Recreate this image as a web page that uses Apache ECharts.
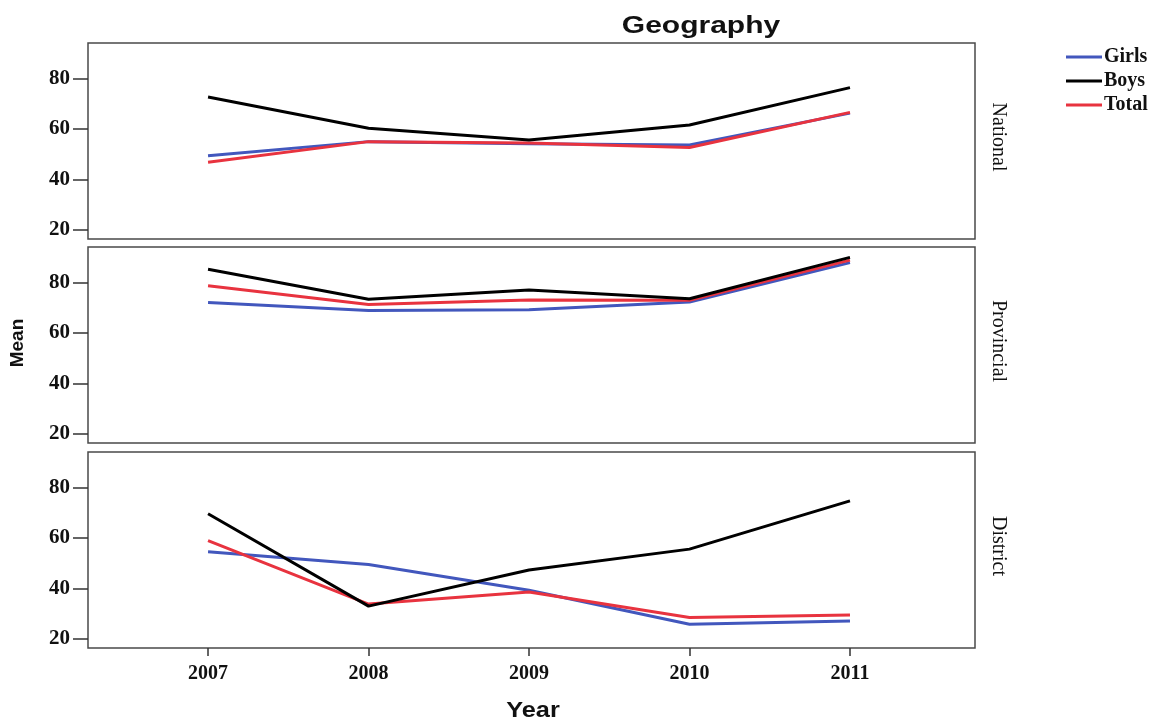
<!DOCTYPE html>
<html>
<head>
<meta charset="utf-8">
<script src="https://cdn.jsdelivr.net/npm/echarts@6/dist/echarts.min.js"></script>
<style>
  html, body { margin: 0; padding: 0; background: #fff; }
  #chart { width: 1163px; height: 725px; }
</style>
</head>
<body>
<div id="chart"></div>
<script>
// Mean Geography marks by year, split by school level and gender
const years = [2007, 2008, 2009, 2010, 2011];
const panels = ['National', 'Provincial', 'District'];
const seriesNames = ['Girls', 'Boys', 'Total'];
const yTicks = [20, 40, 60, 80];

const nationalGirls = [49.4, 55.0, 54.2, 53.7, 66.3];
const nationalBoys  = [72.7, 60.3, 55.6, 61.6, 76.4];
const nationalTotal = [46.8, 55.0, 54.5, 52.7, 66.6];

const provincialGirls = [72.1, 68.9, 69.2, 72.3, 87.9];
const provincialBoys  = [85.3, 73.4, 77.1, 73.6, 90.0];
const provincialTotal = [78.7, 71.3, 73.1, 73.0, 88.9];

const districtGirls = [54.6, 49.5, 39.3, 25.8, 27.1];
const districtBoys  = [69.6, 33.0, 47.3, 55.6, 74.7];
const districtTotal = [59.0, 33.8, 38.6, 28.5, 29.5];

const panelData = [
  { Girls: nationalGirls, Boys: nationalBoys, Total: nationalTotal },
  { Girls: provincialGirls, Boys: provincialBoys, Total: provincialTotal },
  { Girls: districtGirls, Boys: districtBoys, Total: districtTotal }
];

const colors = { Girls: '#4257bd', Boys: '#000000', Total: '#e8333f' };
const drawOrder = ['Girls', 'Total', 'Boys'];

const serif = '"Liberation Serif", "DejaVu Serif", serif';
const sans = '"Liberation Sans", Arial, sans-serif';

const gridTops = [43, 247, 452];
const gridH = 196;
const gridLeft = 88, gridRight = 975;

const grids = gridTops.map(t => ({
  left: gridLeft, top: t, width: gridRight - gridLeft, height: gridH,
  show: true, borderColor: '#4a4a4a', borderWidth: 1.5, backgroundColor: '#fff'
}));

const xAxes = panels.map((p, i) => ({
  type: 'value', gridIndex: i,
  min: 2006.252, max: 2011.779,
  axisLine: { show: false },
  splitLine: { show: false },
  axisTick: {
    show: i === 2, length: 8, inside: false, customValues: years,
    lineStyle: { color: '#333', width: 1.5 }
  },
  axisLabel: {
    show: i === 2, customValues: years, margin: 16,
    fontFamily: serif, fontWeight: 'bold', fontSize: 20, color: '#111',
    formatter: v => String(v)
  }
}));

const yAxes = panels.map((p, i) => ({
  type: 'value', gridIndex: i,
  min: 16.4, max: 94.1,
  axisLine: { show: false },
  splitLine: { show: false },
  axisTick: {
    show: true, length: 15, customValues: yTicks,
    lineStyle: { color: '#333', width: 1.5 }
  },
  axisLabel: {
    customValues: yTicks, margin: 18,
    fontFamily: serif, fontWeight: 'bold', fontSize: 21, color: '#111'
  }
}));

const series = [];
panels.forEach((p, i) => {
  drawOrder.forEach(name => {
    series.push({
      name: name, type: 'line',
      xAxisIndex: i, yAxisIndex: i,
      data: years.map((y, k) => [y, panelData[i][name][k]]),
      showSymbol: false, symbol: 'none',
      lineStyle: { color: colors[name], width: 3 },
      itemStyle: { color: colors[name] },
      animation: false
    });
  });
});

// Panel names on the right, written downwards
const texts = panels.map((p, i) => ({
  type: 'text',
  x: 998, y: gridTops[i] + gridH / 2 - 4,
  rotation: -Math.PI / 2,
  style: {
    text: p, fontFamily: serif, fontSize: 20, fill: '#111',
    align: 'center', verticalAlign: 'middle'
  }
}));

// Chart title
texts.push({
  type: 'text', x: 701, y: 26, scaleX: 1.25,
  style: {
    text: 'Geography', fontFamily: sans, fontWeight: 'bold', fontSize: 24, fill: '#111',
    align: 'center', verticalAlign: 'middle'
  }
});

// Axis titles
texts.push({
  type: 'text', x: 18, y: 343, rotation: Math.PI / 2,
  style: {
    text: 'Mean', fontFamily: sans, fontWeight: 'bold', fontSize: 19, fill: '#111',
    align: 'center', verticalAlign: 'middle'
  }
});
texts.push({
  type: 'text', x: 533, y: 711, scaleX: 1.15,
  style: {
    text: 'Year', fontFamily: sans, fontWeight: 'bold', fontSize: 22, fill: '#111',
    align: 'center', verticalAlign: 'middle'
  }
});

const option = {
  backgroundColor: '#fff',
  animation: false,
  legend: {
    data: seriesNames, orient: 'vertical', left: 1061, top: 42,
    icon: 'rect', itemWidth: 36, itemHeight: 3, itemGap: 4,
    textStyle: { fontFamily: serif, fontWeight: 'bold', fontSize: 20, color: '#111', padding: [0, 0, 0, -3] }
  },
  grid: grids,
  xAxis: xAxes,
  yAxis: yAxes,
  series: series,
  graphic: texts
};

const chart = echarts.init(document.getElementById('chart'), null, { renderer: 'canvas' });
chart.setOption(option);
</script>
</body>
</html>
